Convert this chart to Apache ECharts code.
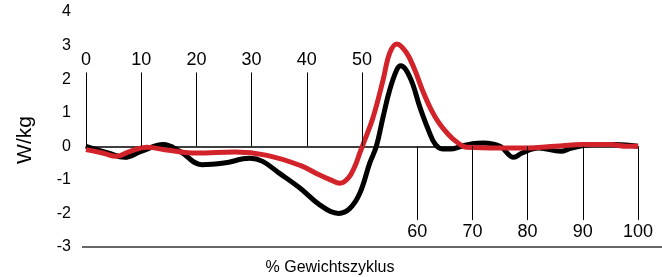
<!DOCTYPE html>
<html>
<head>
<meta charset="utf-8">
<script src="https://cdn.jsdelivr.net/npm/echarts@6/dist/echarts.min.js"></script>
<style>
  html, body { margin: 0; padding: 0; background: #fff; }
  #main { width: 662px; height: 277px; }
</style>
</head>
<body>
<div id="main"></div>
<script>
// % Gewichtszyklus -> W/kg
var tickVals = [0, 10, 20, 30, 40, 50, 60, 70, 80, 90, 100];

var blackX = [0, 4, 7, 10, 14, 17, 21, 25, 29.7, 32, 35, 38.8, 42.4, 45.8, 47.8, 49.6, 51.4, 52.6, 53.8, 55, 56.3, 57, 58.7, 60.5, 62, 63.3, 64.6, 66, 68, 70, 72, 75, 77.5, 79, 82, 86, 88, 92, 96, 100];
var blackY = [0, -0.2, -0.33, -0.15, 0.05, -0.15, -0.55, -0.5, -0.36, -0.45, -0.8, -1.25, -1.75, -2.0, -1.85, -1.4, -0.5, 0, 0.86, 1.67, 2.28, 2.4, 2.05, 1.16, 0.5, 0.05, -0.08, -0.08, 0.0, 0.08, 0.1, 0.0, -0.33, -0.2, -0.05, -0.15, -0.05, 0.05, 0.05, 0];

var redX = [0, 3, 5.5, 8, 11, 15, 20, 27, 32.8, 38.8, 42, 44.3, 46, 47.5, 48.7, 49.6, 50.3, 52, 53.8, 55, 56.3, 58, 59.5, 61, 62.5, 64, 65.5, 67, 69, 75, 80, 85, 90, 95, 98, 100];
var redY = [-0.1, -0.2, -0.3, -0.15, -0.03, -0.12, -0.2, -0.17, -0.27, -0.57, -0.83, -1.0, -1.1, -0.95, -0.6, -0.2, 0.1, 0.86, 1.96, 2.77, 3.05, 2.8, 2.3, 1.65, 1.1, 0.68, 0.38, 0.15, -0.03, -0.05, -0.05, 0.0, 0.05, 0.05, 0.0, 0.0];

function pairs(xs, ys) {
  return xs.map(function (x, i) { return [x, ys[i]]; });
}

var tickLines = tickVals.map(function (v) {
  var up = v <= 50;
  return [
    { coord: [v, 0] },
    { coord: [v, up ? 2.2 : -2.2], label: { formatter: String(v) } }
  ];
});

var chart = echarts.init(document.getElementById('main'));
var option = {
  animation: false,
  textStyle: { fontFamily: 'Liberation Sans, Arial, sans-serif' },
  grid: { left: 86, right: 24, top: 12, bottom: 30, containLabel: false },
  xAxis: {
    type: 'value',
    min: 0,
    max: 100,
    axisLine: { onZero: true, lineStyle: { color: '#000', width: 1.5 } },
    axisTick: { show: false },
    axisLabel: { show: false },
    splitLine: { show: false }
  },
  yAxis: {
    type: 'value',
    min: -3,
    max: 4,
    interval: 1,
    axisLine: { show: false },
    axisTick: { show: false },
    splitLine: { show: false },
    axisLabel: { color: '#000', fontSize: 16, margin: 15 }
  },
  graphic: [
    {
      type: 'line',
      shape: { x1: 82, y1: 247, x2: 662, y2: 247 },
      style: { stroke: '#333', lineWidth: 1.5 }
    },
    {
      type: 'text',
      x: 25,
      y: 140,
      rotation: Math.PI / 2,
      style: {
        text: 'W/kg',
        font: '21px Liberation Sans',
        fill: '#000',
        align: 'center',
        verticalAlign: 'middle'
      }
    },
    {
      type: 'text',
      x: 330,
      y: 268,
      style: {
        text: '% Gewichtszyklus',
        font: '16px Liberation Sans',
        fill: '#000',
        align: 'center',
        verticalAlign: 'middle'
      }
    }
  ],
  series: [
    {
      type: 'line',
      data: [],
      z: 1,
      markLine: {
        silent: true,
        symbol: ['none', 'none'],
        lineStyle: { color: '#000', width: 1, type: 'solid' },
        label: { position: 'end', color: '#000', fontSize: 18, distance: 3 },
        data: tickLines
      }
    },
    {
      name: 'black',
      type: 'line',
      z: 3,
      smooth: 0.4,
      showSymbol: false,
      lineStyle: { color: '#000', width: 5 },
      data: pairs(blackX, blackY)
    },
    {
      name: 'red',
      type: 'line',
      z: 4,
      smooth: 0.4,
      showSymbol: false,
      lineStyle: { color: '#d2232a', width: 5 },
      data: pairs(redX, redY)
    }
  ]
};
chart.setOption(option);
</script>
</body>
</html>
